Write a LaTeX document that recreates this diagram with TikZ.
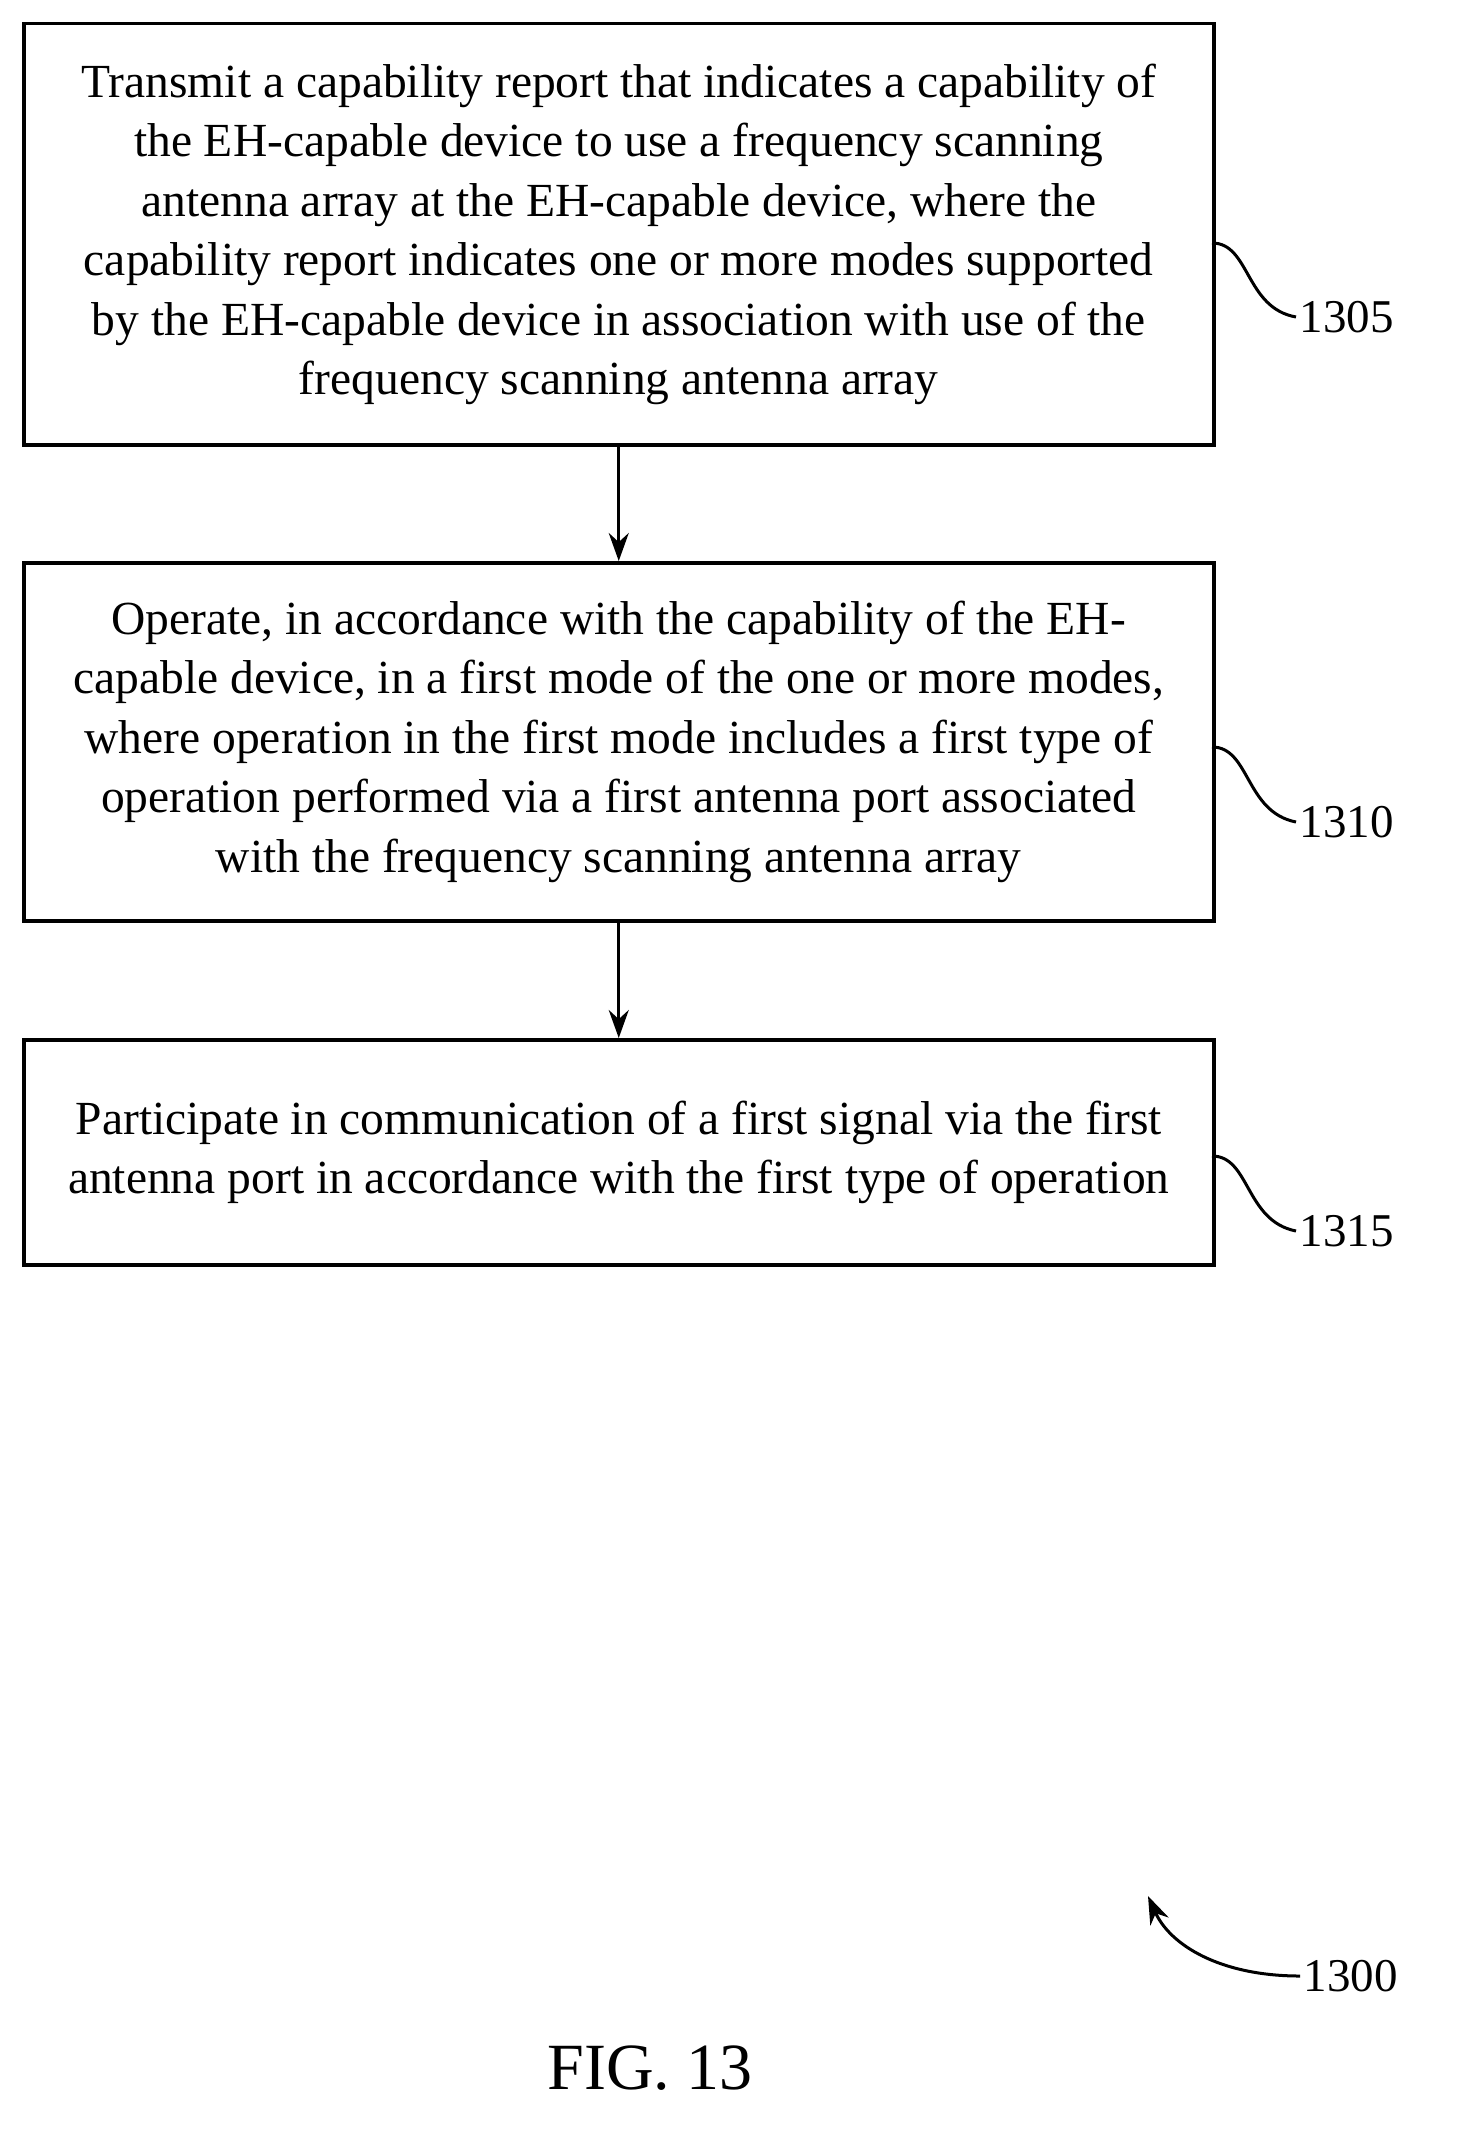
\documentclass[tikz,border=0pt]{standalone}
\usepackage{fontspec}
\usetikzlibrary{arrows.meta}
\setmainfont{Liberation Serif}
\begin{document}
\begin{tikzpicture}[x=1pt,y=-1pt,
  stepbox/.style={draw,line width=3.5pt,minimum width=1190pt,align=center,inner sep=0pt,font=\fontsize{47.5}{59.5}\selectfont,anchor=north west},
  lbl/.style={font=\fontsize{47}{55}\selectfont},
  arr/.style={line width=3pt,-{Stealth[length=28pt,width=20pt]}}]
\useasboundingbox (0,0) rectangle (1459,2141);
\node[stepbox,minimum height=421pt] (b1) at (22,22) {Transmit a capability report that indicates a capability of\\the EH-capable device to use a frequency scanning\\antenna array at the EH-capable device, where the\\capability report indicates one or more modes supported\\by the EH-capable device in association with use of the\\frequency scanning antenna array};
\node[stepbox,minimum height=358pt] (b2) at (22,561) {Operate, in accordance with the capability of the EH-\\capable device, in a first mode of the one or more modes,\\where operation in the first mode includes a first type of\\operation performed via a first antenna port associated\\with the frequency scanning antenna array};
\node[stepbox,minimum height=225pt] (b3) at (22,1038) {Participate in communication of a first signal via the first\\antenna port in accordance with the first type of operation};
\draw[arr] (b1.south) -- (b2.north);
\draw[arr] (b2.south) -- (b3.north);
\node[lbl,anchor=west] (l1) at (1296,317) {1305};
\node[lbl,anchor=west] (l2) at (1296,822) {1310};
\node[lbl,anchor=west] (l3) at (1296,1231) {1315};
\foreach \b/\l/\y in {b1/l1/243,b2/l2/747,b3/l3/1156}{
  \coordinate (s) at (1212,\y);
  \draw[line width=3pt] (s) .. controls (1250,\y) and (1245,\y+65) .. (\l.west);
}
\node[lbl,anchor=west] (l0) at (1300,1976) {1300};
\coordinate (t0) at (1148,1896);
\draw[arr] (l0.west) .. controls (1220,1976) and (1170,1945) .. (t0);
\node[font=\fontsize{66}{72}\selectfont] (fig) at (650,2068) {FIG. 13};
\end{tikzpicture}
\end{document}
